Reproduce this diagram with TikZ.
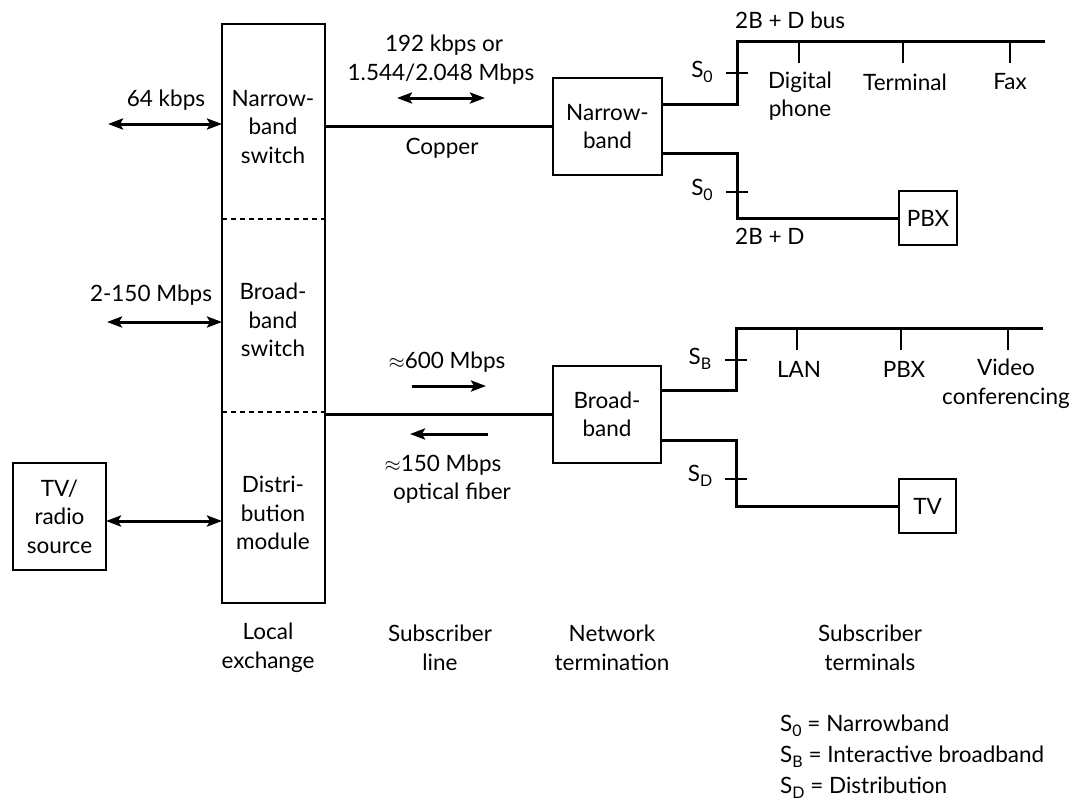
\documentclass[tikz,border=0pt]{standalone}
\usepackage{fontspec}
\setmainfont{Lato}
\usetikzlibrary{arrows.meta}
\newcommand\lowsub[1]{\raisebox{-0.45ex}{\fontsize{16}{16}\selectfont #1}}
\begin{document}
\begin{tikzpicture}[x=1pt,y=-1pt,
  font=\fontsize{22.5}{28.5}\selectfont,
  box/.style={draw, line width=2pt, inner sep=0pt, outer sep=0pt, align=center},
  wire/.style={line width=3pt},
  tick/.style={line width=2pt},
  lbl/.style={inner sep=0pt, align=center},
  dbl/.style={line width=3pt, {Stealth[length=15pt,width=11pt,inset=3pt]}-{Stealth[length=15pt,width=11pt,inset=3pt]}},
  onearrow/.style={line width=3pt, -{Stealth[length=15pt,width=11pt,inset=3pt]}},
  dsh/.style={line width=1.5pt, dash pattern=on 5pt off 4pt}
]
\useasboundingbox (0,0) rectangle (1071,811);

% ---- Local exchange ----
\node[box, minimum width=103pt, minimum height=579pt] (le) at (273.5,313.5) {};
\draw[dsh] (le.west |- 0,219) -- (le.east |- 0,219);
\draw[dsh] (le.west |- 0,412) -- (le.east |- 0,412);
\node[lbl] (nbs) at (273,127) {Narrow-\\band\\switch};
\node[lbl] (bbs) at (273,320) {Broad-\\band\\switch};
\node[lbl] (dm) at (273,513) {Distri-\\bution\\module};

% ---- TV/radio source ----
\node[box, minimum width=93pt, minimum height=107pt] (tv) at (59.5,516.5) {TV/\\radio\\source};

% ---- left arrows ----
\coordinate (a64) at (108,124);
\draw[dbl] (a64) -- (le.west |- a64);
\node[lbl] (l64) at (166,100) {64 kbps};
\coordinate (a2) at (107,322);
\draw[dbl] (a2) -- (le.west |- a2);
\node[lbl] (l2) at (151,295) {2-150 Mbps};
\coordinate (atv) at (106,521);
\draw[dbl] (tv.east |- atv) -- (le.west |- atv);

% ---- Network terminations ----
\node[box, minimum width=109pt, minimum height=97pt] (nt1) at (607.5,126.5) {Narrow-\\band};
\node[box, minimum width=108pt, minimum height=97pt] (nt2) at (607,414.5) {Broad-\\band};

% copper line
\draw[wire] (le.east |- nt1.west) -- (nt1.west);
\node[lbl] (l192) at (444,45) {192 kbps or};
\node[lbl] (l1544) at (441,74) {1.544/2.048 Mbps};
\coordinate (c1) at (397,98);
\coordinate (c2) at (485,98);
\draw[dbl] (c1) -- (c2);
\node[lbl] (lcu) at (442,148) {Copper};

% fiber line
\draw[wire] (le.east |- nt2.west) -- (nt2.west);
\node[lbl] (l600) at (447,362) {$\approx$600 Mbps};
\coordinate (f1) at (412,386);
\coordinate (f2) at (486,386);
\draw[onearrow] (f1) -- (f2);
\coordinate (g1) at (488,434);
\coordinate (g2) at (410,434);
\draw[onearrow] (g1) -- (g2);
\node[lbl] (l150) at (443,465) {$\approx$150 Mbps};
\node[lbl] (lof) at (452,493) {optical fiber};

% ---- Narrowband subscriber side ----
\coordinate (n1u) at (737,104);
\coordinate (bus1e) at (1045,41);
\draw[wire] (nt1.east |- n1u) -- (n1u) -- (n1u |- bus1e) -- (bus1e);
\foreach \x in {799,903,1010} \draw[tick] (\x,41) -- (\x,63);
\draw[tick] (726,73) -- (748,73);
\node[lbl] (s01) at (702,72) {S\lowsub{0}};
\node[lbl, anchor=west] (bus1l) at (735,20) {2B + D bus};
\node[lbl] (dph) at (800,96) {Digital\\phone};
\node[lbl] (term) at (905,82) {Terminal};
\node[lbl] (fax) at (1010,82) {Fax};

\node[box, minimum width=58pt, minimum height=54pt] (pbx1) at (928,218) {PBX};
\coordinate (n1l) at (737,153);
\draw[wire] (nt1.east |- n1l) -- (n1l) -- (n1l |- pbx1.west) -- (pbx1.west);
\draw[tick] (726,192) -- (748,192);
\node[lbl] (s02) at (702,190) {S\lowsub{0}};
\node[lbl, anchor=west] (l2bd) at (735,236) {2B + D};

% ---- Broadband subscriber side ----
\coordinate (n2u) at (736,390);
\coordinate (bus2e) at (1043,328);
\draw[wire] (nt2.east |- n2u) -- (n2u) -- (n2u |- bus2e) -- (bus2e);
\foreach \x in {797,901,1008} \draw[tick] (\x,328) -- (\x,350);
\draw[tick] (725,360) -- (747,360);
\node[lbl] (sb) at (700,359) {S\lowsub{B}};
\node[lbl] (lan) at (799,369) {LAN};
\node[lbl] (pbx2) at (904,369) {PBX};
\node[lbl] (vc) at (1006,384) {Video\\conferencing};

\node[box, minimum width=57pt, minimum height=54pt] (tvb) at (927.5,506) {TV};
\coordinate (n2l) at (736,440);
\draw[wire] (nt2.east |- n2l) -- (n2l) -- (n2l |- tvb.west) -- (tvb.west);
\draw[tick] (725,479) -- (747,479);
\node[lbl] (sd) at (700,476) {S\lowsub{D}};

% ---- bottom labels ----
\node[lbl] (b1) at (268,648) {Local\\exchange};
\node[lbl] (b2) at (440,648) {Subscriber\\line};
\node[lbl] (b3) at (612,648) {Network\\termination};
\node[lbl] (b4) at (870,648) {Subscriber\\terminals};

% ---- legend ----
\node[lbl, anchor=west] (g0) at (780,726) {S\lowsub{0} = Narrowband};
\node[lbl, anchor=west] (gb) at (780,757) {S\lowsub{B} = Interactive broadband};
\node[lbl, anchor=west] (gd) at (780,788) {S\lowsub{D} = Distribution};
\end{tikzpicture}
\end{document}
